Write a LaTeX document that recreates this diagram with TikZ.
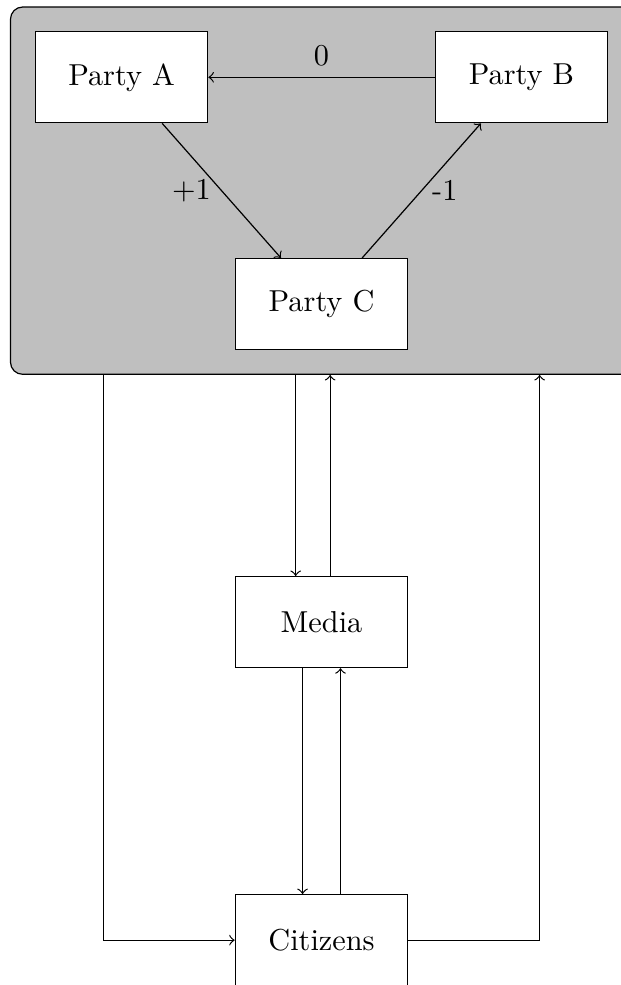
\documentclass[tikz,border=0pt]{standalone}
\usepackage{amsmath}
\usepackage{tikz}
\usetikzlibrary{fit,backgrounds}

\begin{document}
\begin{tikzpicture}[box/.style={draw,fill=white,minimum width=2cm,minimum height=3em}]
\useasboundingbox (-3.73,-7.90) rectangle (3.474,3.527);

\node[box] (C) at (0,0) {Party C};
\node[box] (A) at (-2.32,2.63) {Party A};
\node[box] (B) at (2.32,2.63) {Party B};
\node[box] (M) at (0,-3.69) {Media};
\node[box] (Z) at (0,-7.38) {Citizens};

\begin{scope}[on background layer]
\node[draw,fill=lightgray,rounded corners,inner sep=8pt,fit=(A)(B)(C)] (P) {};
\end{scope}

\draw[->] (B) -- node[above] {0} (A);
\draw[->] (A) -- node[left] {+1} (C);
\draw[->] (C) -- node[right] {-1} (B);

\draw[->] ([xshift=-0.3cm]P.south) -- ([xshift=-0.3cm]M.north);
\draw[->] ([xshift=0.1cm]M.north) -- ([xshift=0.1cm]P.south);
\draw[->] ([xshift=-0.22cm]M.south) -- ([xshift=-0.22cm]Z.north);
\draw[->] ([xshift=0.22cm]Z.north) -- ([xshift=0.22cm]M.south);

\draw[->] ([xshift=-2.53cm]P.south) |- (Z);
\draw[->] (Z) -| ([xshift=2.53cm]P.south);
\end{tikzpicture}
\end{document}
